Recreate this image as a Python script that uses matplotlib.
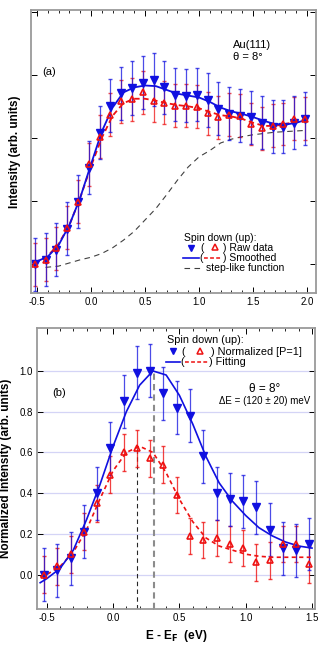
import matplotlib.pyplot as plt
from matplotlib.ticker import MultipleLocator, NullFormatter

plt.rcParams['font.family'] = ['Liberation Sans', 'DejaVu Sans']
plt.rcParams['axes.unicode_minus'] = False

# ---- panel (a) data: raw spin-resolved intensities (arb. units) ----
energy_a = [-0.52, -0.42, -0.32, -0.22, -0.12, -0.02, 0.08, 0.18, 0.28, 0.38,
            0.48, 0.58, 0.68, 0.78, 0.88, 0.98, 1.08, 1.18, 1.28, 1.38,
            1.48, 1.58, 1.68, 1.78, 1.88, 1.98]
down_a = [0.00, 0.07, 0.23, 0.56, 0.99, 1.53, 2.08, 2.51, 2.71, 2.79,
          2.87, 2.92, 2.80, 2.68, 2.67, 2.68, 2.60, 2.46, 2.38, 2.35,
          2.33, 2.24, 2.18, 2.18, 2.24, 2.30]
up_a = [0.00, 0.07, 0.25, 0.58, 0.99, 1.58, 2.02, 2.37, 2.58, 2.61,
        2.72, 2.59, 2.56, 2.51, 2.51, 2.49, 2.39, 2.33, 2.37, 2.35,
        2.22, 2.15, 2.19, 2.22, 2.30, 2.30]
down_a_err = 0.42
up_a_err = 0.34

curve_x_a = [-0.52, -0.4, -0.3, -0.2, -0.1, 0.0, 0.1, 0.2, 0.3, 0.4, 0.5,
             0.6, 0.7, 0.8, 0.9, 1.0, 1.1, 1.2, 1.3, 1.4, 1.5, 1.6, 1.7,
             1.8, 1.9, 2.0]
smooth_down_a = [0.03, 0.12, 0.30, 0.62, 1.05, 1.58, 2.10, 2.48, 2.72, 2.80, 2.83,
                 2.82, 2.76, 2.70, 2.67, 2.64, 2.57, 2.48, 2.42, 2.38, 2.33, 2.27,
                 2.22, 2.21, 2.24, 2.29]
smooth_up_a = [0.02, 0.13, 0.32, 0.62, 1.05, 1.55, 2.00, 2.35, 2.55, 2.62, 2.62,
               2.59, 2.55, 2.52, 2.50, 2.47, 2.41, 2.36, 2.34, 2.30, 2.24, 2.19,
               2.19, 2.22, 2.26, 2.30]
step_x = [-0.42, -0.3, -0.2, -0.1, 0.0, 0.1, 0.2, 0.3, 0.4, 0.5, 0.6, 0.7, 0.8,
          0.9, 1.0, 1.1, 1.2, 1.3, 1.4, 1.5, 1.6, 1.7, 1.8, 1.9, 2.0]
step_y = [-0.05, -0.03, 0.02, 0.07, 0.11, 0.17, 0.26, 0.38, 0.52, 0.70, 0.88,
          1.10, 1.33, 1.54, 1.70, 1.80, 1.92, 1.98, 2.02, 2.05, 2.07, 2.09,
          2.10, 2.11, 2.12]

# ---- panel (b) data: normalized intensities [P=1] ----
energy_b = [-0.52, -0.42, -0.32, -0.22, -0.12, -0.02, 0.08, 0.18, 0.28, 0.38,
            0.48, 0.58, 0.68, 0.78, 0.88, 0.98, 1.08, 1.18, 1.28, 1.38, 1.48]
down_b = [0.00, 0.02, 0.08, 0.21, 0.40, 0.62, 0.85, 0.99, 1.00, 0.89,
          0.82, 0.78, 0.58, 0.40, 0.37, 0.36, 0.33, 0.22, 0.13, 0.12, 0.15]
up_b = [0.00, 0.04, 0.10, 0.21, 0.35, 0.49, 0.60, 0.62, 0.57, 0.54,
        0.39, 0.19, 0.17, 0.18, 0.15, 0.13, 0.06, 0.07, 0.15, 0.15, 0.05]
down_b_err = 0.13
up_b_err = 0.09

fit_x_b = [-0.55, -0.5, -0.4, -0.3, -0.2, -0.1, 0.0, 0.1, 0.2, 0.3, 0.4, 0.5,
           0.6, 0.7, 0.8, 0.9, 1.0, 1.1, 1.2, 1.3, 1.4, 1.5]
fit_down_b = [-0.04, -0.02, 0.03, 0.12, 0.27, 0.44, 0.63, 0.80, 0.93, 1.00, 0.98,
              0.88, 0.74, 0.58, 0.45, 0.36, 0.29, 0.23, 0.19, 0.16, 0.14, 0.13]
fit_up_b = [-0.01, 0.00, 0.04, 0.11, 0.22, 0.37, 0.51, 0.60, 0.63, 0.60, 0.50,
            0.37, 0.26, 0.18, 0.14, 0.12, 0.10, 0.09, 0.085, 0.085, 0.085, 0.085]
peak_up = 0.18
peak_down = 0.31

blue = '#1010e0'
red = '#ee1111'
frame = '#9a9a9a'

fig = plt.figure(figsize=(3.32, 6.46), dpi=100)
ax1 = fig.add_axes([0.093, 0.546, 0.859, 0.439])
ax2 = fig.add_axes([0.111, 0.057, 0.838, 0.435])


def style_axes(ax):
    for sp in ax.spines.values():
        sp.set_color(frame)
        sp.set_linewidth(1.3)
    ax.tick_params(which='both', direction='in', top=True, right=True,
                   labelsize=7, pad=3)
    ax.tick_params(which='major', length=4, width=0.7)
    ax.tick_params(which='minor', length=2.5, width=0.6)


# ---------------- panel (a) ----------------
style_axes(ax1)
ax1.plot(step_x, step_y, color='0.25', ls=(0, (5, 4)), lw=0.8)
ax1.errorbar(energy_a, up_a, yerr=up_a_err, fmt='none', ecolor=red,
             elinewidth=0.9, capsize=1.3, alpha=0.75)
ax1.errorbar(energy_a, down_a, yerr=down_a_err, fmt='none', ecolor=blue,
             elinewidth=0.9, capsize=1.3, alpha=0.75)
ax1.plot(curve_x_a, smooth_up_a, color=red, ls=(0, (3, 2)), lw=1.3)
ax1.plot(curve_x_a, smooth_down_a, color=blue, lw=1.3)
ax1.plot(energy_a, down_a, 'v', color=blue, ms=5.5, mec=blue)
ax1.plot(energy_a, up_a, '^', mfc='none', mec=red, mew=1.2, ms=5)

ax1.set_xlim(-0.556, 2.083)
ax1.set_ylim(-0.46, 4.03)
ax1.xaxis.set_major_locator(MultipleLocator(0.5))
ax1.xaxis.set_minor_locator(MultipleLocator(0.1))
ax1.yaxis.set_major_locator(MultipleLocator(1))
ax1.yaxis.set_major_formatter(NullFormatter())
ax1.set_ylabel('Intensity (arb. units)', fontsize=8.5, fontweight='bold',
               labelpad=4)

ax1.text(0.04, 0.77, '(a)', transform=ax1.transAxes, fontsize=8)
ax1.text(0.71, 0.866, 'Au(111)', transform=ax1.transAxes, fontsize=8)
ax1.text(0.71, 0.823, 'θ = 8°', transform=ax1.transAxes, fontsize=8)

# legend (a) drawn by hand to get the "( Δ )" layout
t1 = ax1.transAxes
ax1.text(0.537, 0.194, 'Spin down (up):', transform=t1, fontsize=7.5, va='center')
ax1.plot([0.561], [0.159], 'v', color=blue, ms=5, transform=t1)
ax1.text(0.595, 0.159, '(', transform=t1, fontsize=7.5, va='center')
ax1.plot([0.646], [0.162], '^', mfc='none', mec=red, mew=1.1, ms=4.5, transform=t1)
ax1.text(0.675, 0.159, ') Raw data', transform=t1, fontsize=7.5, va='center')
ax1.plot([0.535, 0.59], [0.124, 0.124], color=blue, lw=1.2, transform=t1)
ax1.text(0.592, 0.124, '(', transform=t1, fontsize=7.5, va='center')
ax1.plot([0.607, 0.668], [0.124, 0.124], color=red, lw=1.1, ls=(0, (2.5, 1.5)),
         transform=t1)
ax1.text(0.672, 0.124, ') Smoothed', transform=t1, fontsize=7.5, va='center')
ax1.plot([0.537, 0.595], [0.088, 0.088], color='0.25', lw=0.8, ls=(0, (5, 4)),
         transform=t1)
ax1.text(0.614, 0.088, 'step-like function', transform=t1, fontsize=7.5,
         va='center')

# ---------------- panel (b) ----------------
style_axes(ax2)
ax2.yaxis.grid(True, color='#d4d4f6', lw=0.9)
ax2.set_axisbelow(True)
ax2.plot([peak_up, peak_up], [-0.17, 0.62], color='0.15', ls=(0, (4, 3)), lw=0.8)
ax2.plot([peak_down, peak_down], [-0.17, 1.0], color='0.55', ls=(0, (3, 2)), lw=1.5)
ax2.errorbar(energy_b, up_b, yerr=up_b_err, fmt='none', ecolor=red,
             elinewidth=0.9, capsize=1.3, alpha=0.8)
ax2.errorbar(energy_b, down_b, yerr=down_b_err, fmt='none', ecolor=blue,
             elinewidth=0.9, capsize=1.3, alpha=0.75)
ax2.plot(fit_x_b, fit_up_b, color=red, ls=(0, (2.5, 2)), lw=1.2)
ax2.plot(fit_x_b, fit_down_b, color=blue, lw=1.2)
ax2.plot(energy_b, down_b, 'v', color=blue, ms=5.5, mec=blue)
ax2.plot(energy_b, up_b, '^', mfc='none', mec=red, mew=1.2, ms=5)

ax2.set_xlim(-0.575, 1.523)
ax2.set_ylim(-0.17, 1.21)
ax2.xaxis.set_major_locator(MultipleLocator(0.5))
ax2.xaxis.set_minor_locator(MultipleLocator(0.1))
ax2.set_yticks([0.0, 0.2, 0.4, 0.6, 0.8, 1.0])
ax2.set_ylabel('Normalized Intensity (arb. units)', fontsize=8.5,
               fontweight='bold', labelpad=5)
ax2.set_xlabel('E - E$_\\mathbf{F}$  (eV)', fontsize=8.5, fontweight='bold',
               labelpad=3)

ax2.text(0.055, 0.76, '(b)', transform=ax2.transAxes, fontsize=8)
ax2.text(0.82, 0.783, 'θ = 8°', transform=ax2.transAxes, fontsize=8.5,
         ha='center', va='center')
ax2.text(0.82, 0.74, 'ΔE = (120 ± 20) meV', transform=ax2.transAxes,
         fontsize=7, ha='center', va='center')

t2 = ax2.transAxes
ax2.text(0.468, 0.957, 'Spin down (up):', transform=t2, fontsize=7.8, va='center')
ax2.plot([0.49], [0.917], 'v', color=blue, ms=5, transform=t2)
ax2.text(0.52, 0.915, '(', transform=t2, fontsize=7.8, va='center')
ax2.plot([0.586], [0.918], '^', mfc='none', mec=red, mew=1.1, ms=4.5, transform=t2)
ax2.text(0.625, 0.915, ') Normalized [P=1]', transform=t2, fontsize=7.8,
         va='center')
ax2.plot([0.465, 0.515], [0.879, 0.879], color=blue, lw=1.2, transform=t2)
ax2.text(0.517, 0.879, '(', transform=t2, fontsize=7.8, va='center')
ax2.plot([0.533, 0.615], [0.879, 0.879], color=red, lw=1.1, ls=(0, (2.5, 1.5)),
         transform=t2)
ax2.text(0.62, 0.879, ') Fitting', transform=t2, fontsize=7.8, va='center')

fig.savefig('out.png', dpi=100)
